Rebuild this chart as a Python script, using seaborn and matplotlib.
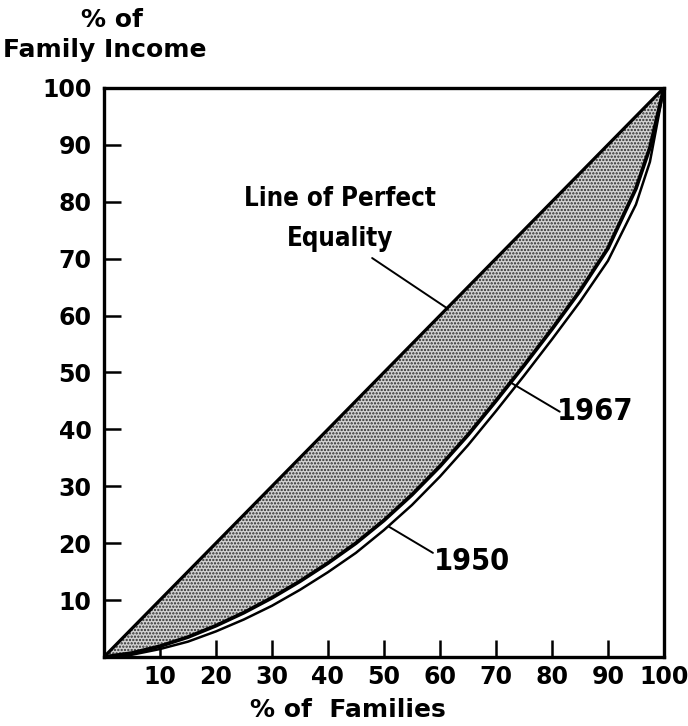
import matplotlib
matplotlib.use("Agg")
import matplotlib.pyplot as plt
import seaborn as sns
import numpy as np

# ---- data ----
pct_families = [0, 5, 10, 15, 20, 25, 30, 35, 40, 45, 50, 55, 60, 65, 70,
                75, 80, 85, 90, 95, 97.5, 100]
income_1967 = [0, 0.7, 1.9, 3.5, 5.5, 7.8, 10.4, 13.3, 16.5, 20.0, 24.0, 28.5,
               33.5, 39.0, 45.0, 51.2, 57.6, 64.3, 71.8, 82.3, 89.5, 100]
income_1950 = [0, 0.4, 1.4, 2.7, 4.5, 6.6, 9.0, 11.8, 14.9, 18.3, 22.3, 26.7,
               31.7, 37.2, 43.2, 49.4, 55.8, 62.4, 69.6, 79.5, 87.0, 100]
equality = [0, 100]
tick_values = [10, 20, 30, 40, 50, 60, 70, 80, 90, 100]
tick_labels = ["10", "20", "30", "40", "50", "60", "70", "80", "90", "100"]

sns.set_style("ticks")
plt.rcParams["font.family"] = ["DejaVu Sans"]
plt.rcParams["text.color"] = "black"
plt.rcParams["hatch.linewidth"] = 1.1
narrow = ["Liberation Sans Narrow", "DejaVu Sans Condensed", "DejaVu Sans"]

fig = plt.figure(figsize=(6.88, 7.26), dpi=100)
ax = fig.add_axes([0.151, 0.095, 0.814, 0.784])

# shaded area between equality line and 1967 curve
ax.fill_between(pct_families, pct_families, income_1967, facecolor="#d2d2d2",
                hatch=".....", edgecolor="#2a2a2a", linewidth=0, zorder=1)

sns.lineplot(x=equality, y=equality, ax=ax, color="black", linewidth=2.3,
             sort=False, estimator=None, zorder=3)
sns.lineplot(x=pct_families, y=income_1967, ax=ax, color="black", linewidth=2.7,
             sort=False, estimator=None, zorder=3)
sns.lineplot(x=pct_families, y=income_1950, ax=ax, color="black", linewidth=1.8,
             sort=False, estimator=None, zorder=3)

ax.set_xlim(0, 100)
ax.set_ylim(0, 100)
ax.set_xticks(tick_values)
ax.set_xticklabels(tick_labels)
ax.set_yticks(tick_values)
ax.set_yticklabels(tick_labels)
ax.set_xlabel("")
ax.set_ylabel("")
for s in ax.spines.values():
    s.set_visible(True)
    s.set_linewidth(2.4)
    s.set_color("black")
ax.tick_params(direction="in", length=12, width=1.8, colors="black",
               labelsize=17, top=False, right=False)
ax.tick_params(axis="y", pad=9)
ax.tick_params(axis="x", pad=6)
for lab in ax.get_xticklabels() + ax.get_yticklabels():
    lab.set_fontweight("bold")

# annotations
ax.text(42.1, 76.9, "Line of Perfect\nEquality", ha="center", va="center",
        fontsize=18.5, fontweight="bold", family=narrow, fontstretch="condensed",
        linespacing=1.7, color="black", zorder=5)
ax.annotate("", xy=(61.4, 61.2), xytext=(47.9, 70.1),
            arrowprops=dict(arrowstyle="-", lw=1.4, color="black", shrinkA=0, shrinkB=0))

ax.text(87.8, 43.1, "1967", ha="center", va="center", fontsize=22,
        fontweight="bold", family=narrow, fontstretch="condensed",
        color="black", zorder=5)
ax.annotate("", xy=(72.5, 48.3), xytext=(81.4, 43.1),
            arrowprops=dict(arrowstyle="-", lw=1.4, color="black", shrinkA=0, shrinkB=0))

ax.text(65.7, 16.7, "1950", ha="center", va="center", fontsize=22,
        fontweight="bold", family=narrow, fontstretch="condensed",
        color="black", zorder=5)
ax.annotate("", xy=(50.9, 22.9), xytext=(58.75, 18.3),
            arrowprops=dict(arrowstyle="-", lw=1.4, color="black", shrinkA=0, shrinkB=0))

# axis titles
fig.text(112 / 688, 1 - 20 / 726, "% of", ha="center", va="center",
         fontsize=18, fontweight="bold", color="black")
fig.text(105 / 688, 1 - 50 / 726, "Family Income", ha="center", va="center",
         fontsize=18, fontweight="bold", color="black")
fig.text(348 / 688, 1 - 710 / 726, "% of  Families", ha="center", va="center",
         fontsize=18, fontweight="bold", color="black")

fig.savefig("out.png", dpi=100)
